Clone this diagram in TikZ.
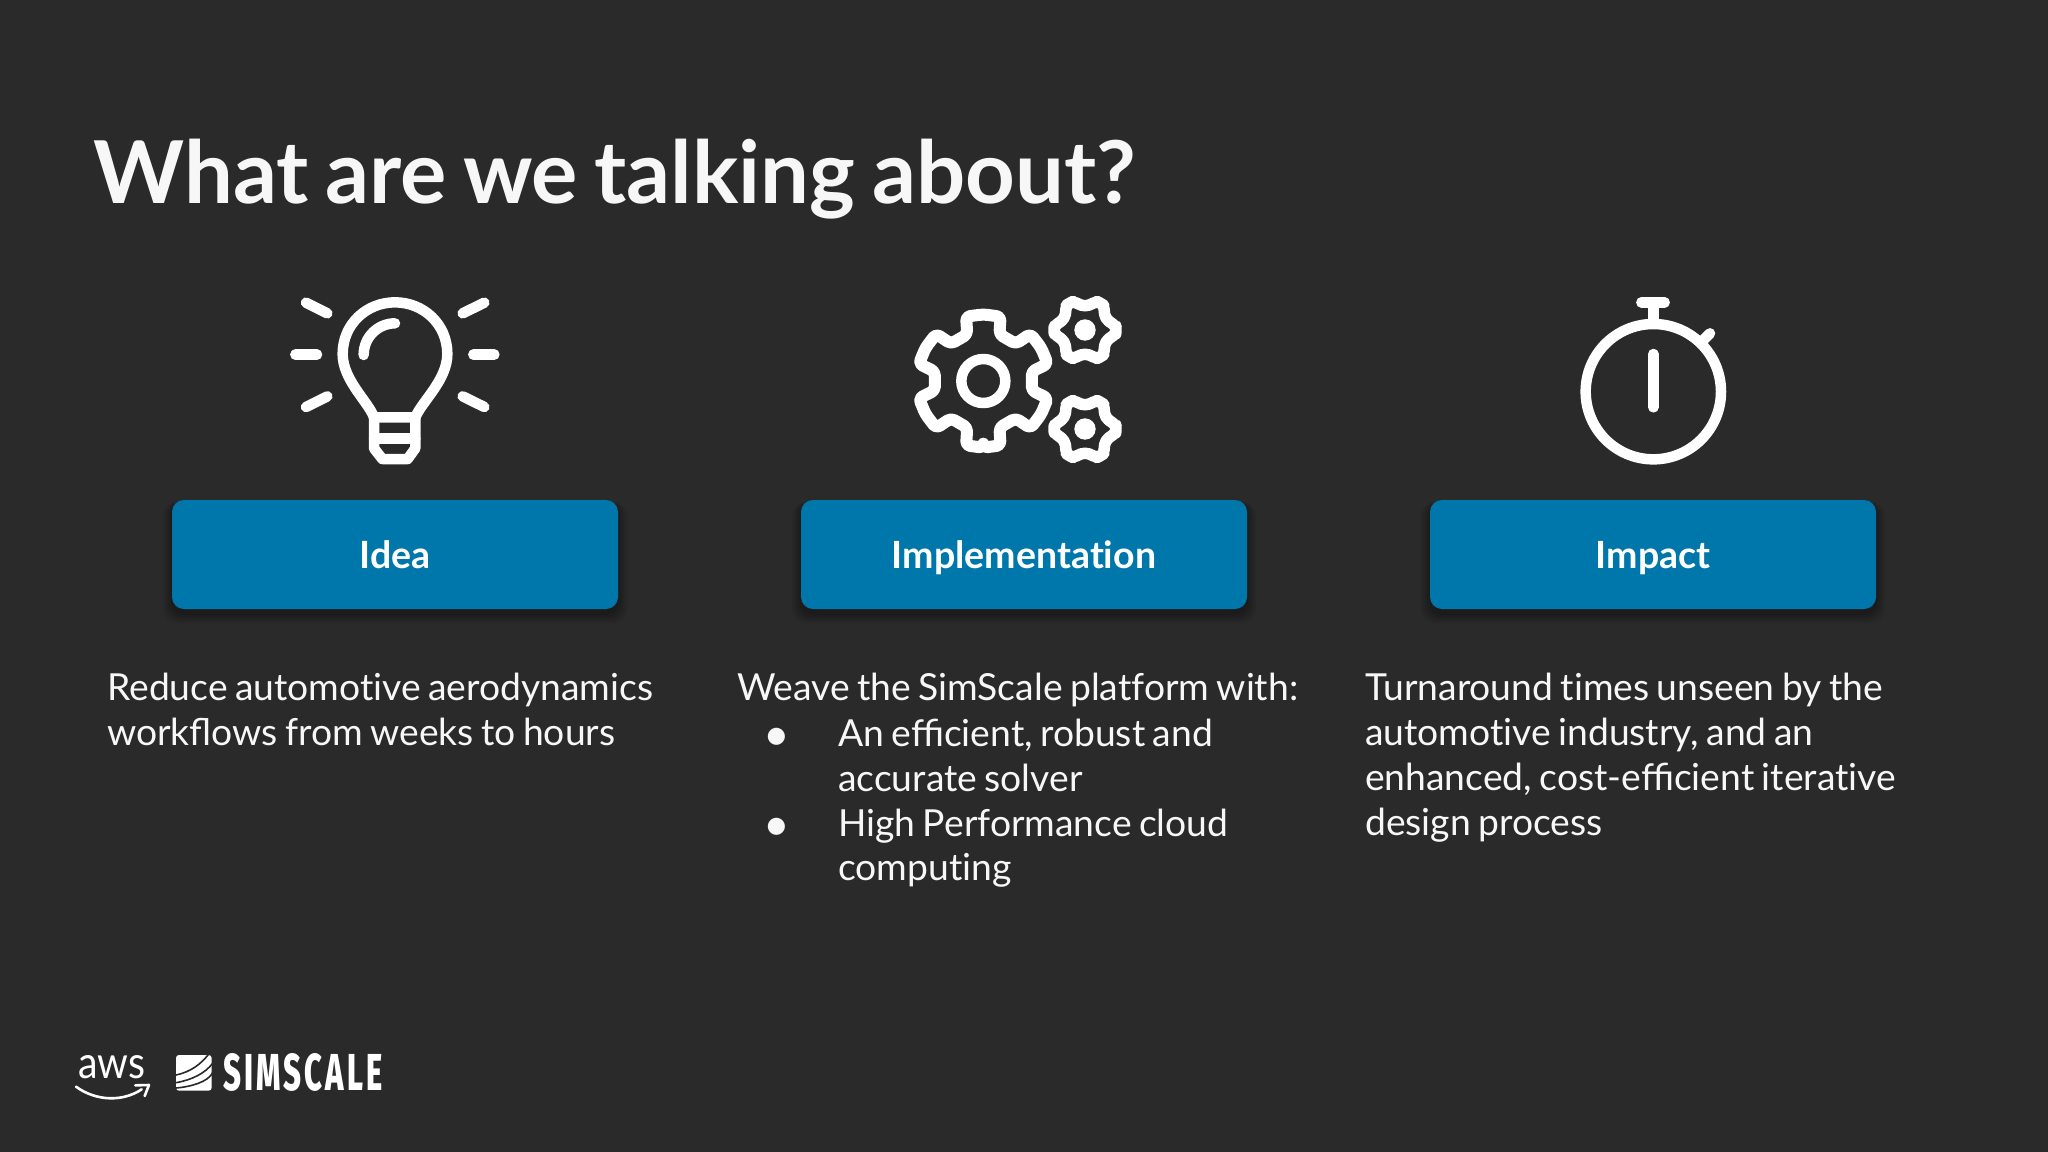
\documentclass[tikz,border=0pt]{standalone}
\usepackage{fontspec}
\setmainfont[WordSpace=0.78]{Lato}
\newfontfamily\logofont[LetterSpace=10]{Fira Sans ExtraBold}
\newfontfamily\awsfont{Lato}
\newcommand{\nolig}{\kern0pt }
\definecolor{bgc}{HTML}{2A2A2B}
\definecolor{btnc}{HTML}{0077AB}
\definecolor{ink}{HTML}{F7F7F7}
\tikzset{
  btn/.style={fill=btnc,rounded corners=12pt,minimum width=446pt,minimum height=109pt,inner sep=0pt,text=white,text height=35pt,text depth=8pt,font=\fontsize{37.5}{44}\selectfont\bfseries},
  shade1/.style={fill=black,fill opacity=0.07,rounded corners=14pt},
  bodytxt/.style={anchor=north west,inner sep=0pt,align=left,text=ink,font=\fontsize{37.25}{44.8}\selectfont},
  icon/.style={draw=white,line width=10.5pt,line cap=round,line join=round},
  zoomed/.style={x=0.33333pt,y=-0.33333pt}
}
\begin{document}
\begin{tikzpicture}[x=1pt,y=-1pt]
\useasboundingbox (0,0) rectangle (2048,1151.6);
\fill[bgc] (-5,-5) rectangle (2055,1160);
\node[anchor=base west,inner sep=0pt,text=ink,font=\fontsize{86.7}{100}\selectfont\bfseries] (title) at (93.5,203) {What are we talking about?};

% shadows
\foreach \cx in {395,1024,1653}{
  \foreach \g in {1,3,5,7,9}{
    \fill[shade1] (\cx-223-\g,500+2) rectangle (\cx+223+\g,609+5+\g);
  }
}
\node[btn] (idea) at (395,554.5) {Idea};
\node[btn] (impl) at (1024,554.5) {Implementat\nolig ion};
\node[btn] (impact) at (1653,554.5) {Impact};

\node[bodytxt] (t1) at (107,673) {Reduce automot\nolig ive aerodynamics\\workflows from weeks to hours};
\node[bodytxt] (t2) at (737,673) {Weave the SimScale plat\nolig form with:\\[1pt]
\hspace*{26pt}\makebox[75pt][l]{\raisebox{-4pt}{\fontsize{46}{44.8}\selectfont•}}An efficient, robust and\\
\hspace*{101pt}accurate solver\\
\hspace*{26pt}\makebox[75pt][l]{\raisebox{-4pt}{\fontsize{46}{44.8}\selectfont•}}High Performance cloud\\
\hspace*{101pt}comput\nolig ing};
\node[bodytxt] (t3) at (1365,673) {Turnaround t\nolig imes unseen by the\\automot\nolig ive industry, and an\\enhanced, cost-efficient iterat\nolig ive\\design process};

% light bulb
\begin{scope}[shift={(270,280)},zoomed]
 \draw[icon] (312,412) .. controls (295,365) and (218,300) .. (218,222)
   .. controls (218,132) and (290,67) .. (375,67)
   .. controls (460,67) and (532,132) .. (532,222)
   .. controls (532,300) and (455,365) .. (436,412) -- cycle;
 \draw[icon] (312,412) -- (312,505) -- (337,537) -- (413,537) -- (436,505) -- (436,412);
 \draw[icon] (312,475) -- (436,475);
 \draw[icon] (281,225) .. controls (281,170) and (325,130) .. (375,130);
 \foreach \a/\b/\c/\d in {108/68/172/100, 578/100/643/68, 76/224/141/224, 610/224/673/224, 108/381/172/349, 578/349/643/381}
   \draw[icon] (\a,\b) -- (\c,\d);
\end{scope}

% gears
\begin{scope}[shift={(890,280)},zoomed]
 \begin{scope}[shift={(280,303)}]
  \draw[icon,line width=12pt,rounded corners=4pt] (90:200)
   \foreach \t in {90,30,-30,-90,-150,-210}{
     -- ({\t-15}:200) -- ({\t-19}:148) -- ({\t-41}:148) -- ({\t-45}:200) -- ({\t-60}:200)
   } -- cycle;
  \draw[icon] (0,0) circle (66);
 \end{scope}
 \foreach \cy in {150,447}{
 \begin{scope}[shift={(585,\cy)}]
  \draw[icon,line width=11.5pt,rounded corners=4pt] (0:93)
   \foreach \t in {0,-60,-120,-180,-240,-300}{
     -- ({\t-9}:93) -- ({\t-20}:74) -- ({\t-40}:74) -- ({\t-51}:93) -- ({\t-60}:93)
   } -- cycle;
  \fill[white] (0,0) circle (32);
 \end{scope}}
\end{scope}

% stopwatch
\begin{scope}[shift={(1560,280)},zoomed]
 \draw[icon] (280,335) circle (203);
 \draw[icon,line cap=butt] (280,132) -- (280,67);
 \draw[icon] (244,67) -- (314,67);
 \draw[icon] (280,222) -- (280,382);
 \draw[icon] (428,182) -- (450,160);
\end{scope}

% logos
\begin{scope}[shift={(60,1030)},zoomed]
 \node[anchor=south west,inner sep=0pt,text=white] (aws) at (55,148) {\resizebox{67pt}{23pt}{\awsfont aws}};
 \draw[white,line width=2.6pt,line cap=round] (48,170) .. controls (110,215) and (190,215) .. (245,178);
 \draw[white,line width=2.6pt,line cap=round,line join=round] (226,166) -- (267,165) -- (254,198);
 \fill[white,rounded corners=3pt] (348,75) rectangle (455,182);
 \draw[bgc,line width=1.6pt] (348,135) .. controls (395,125) and (425,100) .. (448,70);
 \draw[bgc,line width=1.6pt] (348,158) .. controls (395,150) and (435,130) .. (458,100);
 \draw[bgc,line width=1.6pt] (348,174) .. controls (395,170) and (445,155) .. (458,128);
 \node[anchor=south west,inner sep=0pt,text=white] (sim) at (490,185) {\resizebox{159pt}{37pt}{\logofont SIMSCALE}};
\end{scope}
\end{tikzpicture}
\end{document}
